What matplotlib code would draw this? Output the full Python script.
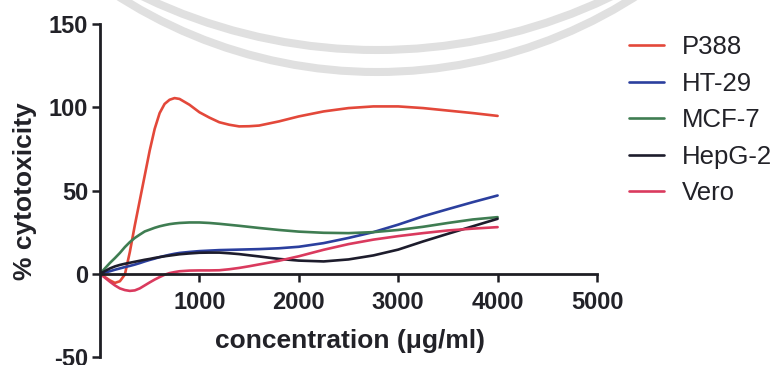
import matplotlib
matplotlib.use("Agg")
import matplotlib.pyplot as plt
from matplotlib.patches import Arc
from matplotlib.transforms import IdentityTransform

# ---------------- data ----------------
conc = [0, 100, 150, 200, 250, 300, 350, 400, 450, 500, 550, 600, 650, 700,
        750, 800, 900, 1000, 1100, 1200, 1300, 1400, 1500, 1600, 1800, 2000,
        2250, 2500, 2750, 3000, 3250, 3500, 3750, 4000]

p388 = [0, -4, -5.5, -4.5, -0.5, 13, 29, 44, 59, 74, 87, 96.5, 102, 104.5,
        105.5, 105, 101.5, 97, 93.8, 91, 89.5, 88.5, 88.6, 89, 91.5, 94.5,
        97.5, 99.5, 100.5, 100.5, 99.5, 98, 96.5, 94.8]
ht29 = [0, 1.5, 2.4, 3.2, 4, 4.7, 5.5, 6.4, 7.4, 8.3, 9.1, 10, 10.7, 11.4,
        12, 12.5, 13.1, 13.6, 13.9, 14.2, 14.35, 14.5, 14.65, 14.8, 15.3,
        16.2, 18.4, 21.5, 25, 29.5, 34.5, 38.8, 43, 47]
mcf7 = [0, 6.5, 9.4, 12.5, 16, 19, 21.5, 23.5, 25.4, 26.5, 27.6, 28.5, 29.2,
        29.8, 30.2, 30.5, 30.8, 30.8, 30.5, 30, 29.4, 28.8, 28.15, 27.5, 26.3,
        25.3, 24.6, 24.4, 25, 26.3, 28.2, 30.5, 32.6, 34]
hepg2 = [0, 3.2, 4.4, 5.3, 6, 6.6, 7.2, 7.8, 8.4, 8.9, 9.5, 10, 10.5, 10.9,
         11.3, 11.7, 12.2, 12.6, 12.7, 12.7, 12.3, 11.8, 11.1, 10.4, 8.9,
         7.9, 7.4, 8.6, 11, 14.5, 19.4, 24, 28.5, 33]
vero = [0, -4.8, -7, -8.8, -9.8, -10.3, -10, -8.8, -7, -5.2, -3.5, -2, -0.6,
        0.4, 1, 1.5, 1.9, 2, 2.0, 2.1, 2.7, 3.5, 4.5, 5.6, 7.8, 10.5, 14.4,
        17.8, 20.5, 22.6, 24.4, 26, 27.1, 28]

series_names = ["P388", "HT-29", "MCF-7", "HepG-2", "Vero"]
series_values = [p388, ht29, mcf7, hepg2, vero]
series_colors = ["#e3483a", "#2b3f9e", "#3f7d52", "#1d1c2c", "#da3a5e"]

x_ticks = [1000, 2000, 3000, 4000, 5000]
y_ticks = [-50, 0, 50, 100, 150]

# ---------------- figure ----------------
W, H = 780, 365
fig = plt.figure(figsize=(W / 100, H / 100), dpi=100)
fig.patch.set_facecolor("white")

# faint watermark arcs (scan artefact), in pixel coordinates
for cy, r in [(408, 480), (490, 540)]:
    fig.patches.append(Arc((377, H + cy), 2 * r, 2 * r, theta1=180,
                           theta2=360, transform=IdentityTransform(),
                           color="#e0e0e0", lw=5.8, zorder=0))

ax = fig.add_axes([100 / W, 1 - 357 / H, (597 - 100) / W, (357 - 24) / H])
ax.set_facecolor("none")

for name, vals, col in zip(series_names, series_values, series_colors):
    ax.plot(conc, vals, color=col, lw=1.9, label=name, solid_capstyle="round",
            solid_joinstyle="round")

ax.set_xlim(0, 5000)
ax.set_ylim(-50, 150)
ax.spines["top"].set_visible(False)
ax.spines["right"].set_visible(False)
ax.spines["bottom"].set_position(("data", 0))
for s in ("left", "bottom"):
    ax.spines[s].set_linewidth(2.0)
    ax.spines[s].set_color("#1e1e24")

ax.set_xticks(x_ticks)
ax.set_xticklabels([str(t) for t in x_ticks])
ax.set_yticks(y_ticks)
ax.set_yticklabels([str(t) for t in y_ticks])
ax.tick_params(axis="both", direction="out", length=5.5, width=1.8,
               color="#1e1e24", labelcolor="#222228")
ax.tick_params(axis="x", pad=7)
ax.tick_params(axis="y", pad=3)
for lab in ax.get_xticklabels() + ax.get_yticklabels():
    lab.set_fontfamily("Liberation Sans")
    lab.set_fontweight("bold")
    lab.set_fontsize(17)

fig.text(350 / W, 1 - 348 / H, "concentration (\u03bcg/ml)", ha="center",
         va="baseline", fontsize=19, fontweight="bold",
         family="Liberation Sans", color="#222228")
fig.text(25 / W, 1 - 191 / H, "% cytotoxicity", ha="center", va="center",
         rotation=90, fontsize=19, fontweight="bold",
         family="Liberation Sans", color="#222228")

leg = fig.legend(loc="upper left", bbox_to_anchor=(629 / W, 1 - 35 / H),
                 frameon=False, borderpad=0, borderaxespad=0,
                 handlelength=1.37, handletextpad=0.7, labelspacing=0.49,
                 prop={"family": "Liberation Sans", "size": 18.5})
for t in leg.get_texts():
    t.set_color("#222228")

fig.savefig("out.png", dpi=100)
